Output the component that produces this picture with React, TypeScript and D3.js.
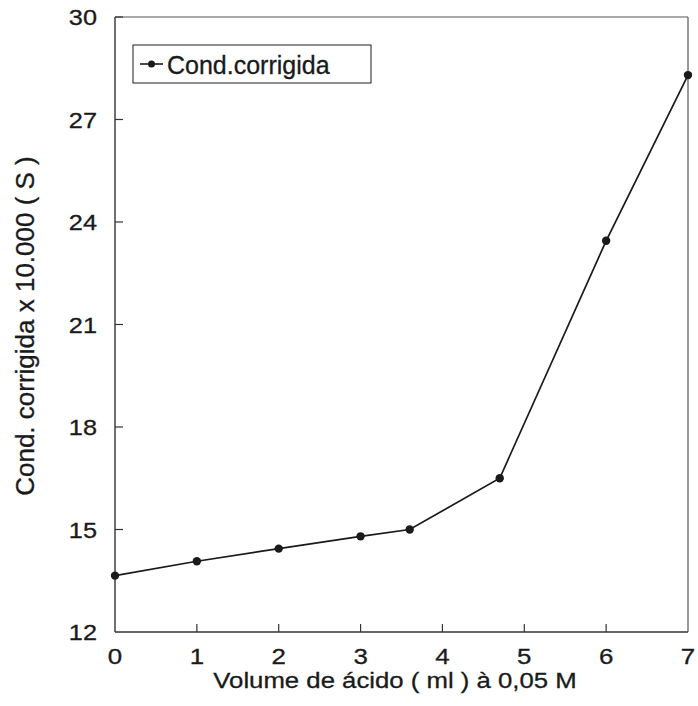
import React from "react";
import * as d3 from "d3";

const volumes = [0, 1, 2, 3, 3.6, 4.7, 6, 7];
const conductance = [13.65, 14.07, 14.44, 14.8, 15.0, 16.5, 23.45, 28.3];
const xTicks = [0, 1, 2, 3, 4, 5, 6, 7];
const yTicks = [12, 15, 18, 21, 24, 27, 30];
const seriesName = "Cond.corrigida";
const xTitle = "Volume de ácido ( ml ) à 0,05 M";
const yTitle = "Cond. corrigida x 10.000 ( S )";

const W = 698;
const H = 706;
const left = 115;
const right = 688;
const top = 17;
const bottom = 632;

export default function App() {
  const x = d3.scaleLinear().domain([0, 7]).range([left, right]);
  const y = d3.scaleLinear().domain([12, 30]).range([bottom, top]);
  const data = volumes.map((v, i) => ({ v, c: conductance[i] }));
  const line = d3
    .line<{ v: number; c: number }>()
    .x((d) => x(d.v))
    .y((d) => y(d.c));
  const font = "Arial, 'Liberation Sans', sans-serif";
  const ink = "#1a1a1a";
  const thick = { stroke: ink, strokeWidth: 0.3 };

  return (
    <svg
      width={W}
      height={H}
      style={{ position: "absolute", left: 0, top: 0, background: "#fff" }}
      fontFamily={font}
    >
      <rect x={0} y={0} width={W} height={H} fill="#fff" />
      {/* frame */}
      <line x1={x(0)} x2={x(7)} y1={y(30)} y2={y(30)} stroke="#555" strokeWidth={1.2} />
      <line x1={x(7)} x2={x(7)} y1={y(30)} y2={y(12)} stroke="#555" strokeWidth={1.2} />
      <line x1={x(0)} x2={x(0)} y1={y(30)} y2={y(12)} stroke="#333" strokeWidth={1.4} />
      <line x1={x(0)} x2={x(7)} y1={y(12)} y2={y(12)} stroke="#333" strokeWidth={1.4} />
      {/* y ticks */}
      {yTicks.map((t) => (
        <g key={"y" + t}>
          {t !== 12 && (
            <line x1={x(0)} x2={x(0) + 8} y1={y(t)} y2={y(t)} stroke="#333" strokeWidth={1.2} />
          )}
          <text
            transform={`translate(97, ${y(t) + 8}) scale(1.15, 1)`}
            textAnchor="end"
            fontSize={22}
            fill={ink}
            {...thick}
          >
            {t}
          </text>
        </g>
      ))}
      {/* x ticks */}
      {xTicks.map((t) => (
        <g key={"x" + t}>
          {t !== 0 && t !== 7 && (
            <line x1={x(t)} x2={x(t)} y1={y(12)} y2={y(12) - 8} stroke="#333" strokeWidth={1.2} />
          )}
          <text
            transform={`translate(${x(t)}, 664) scale(1.15, 1)`}
            textAnchor="middle"
            fontSize={22.5}
            fill={ink}
            {...thick}
          >
            {t}
          </text>
        </g>
      ))}
      {/* axis titles */}
      <text
        transform="translate(395, 688) scale(1.17, 1)"
        textAnchor="middle"
        fontSize={22}
        fill={ink}
        {...thick}
      >
        {xTitle}
      </text>
      <text
        transform="translate(34, 326) rotate(-90) scale(1.04, 1)"
        textAnchor="middle"
        fontSize={25}
        fill={ink}
        {...thick}
      >
        {yTitle}
      </text>
      {/* series */}
      <path d={line(data) || ""} fill="none" stroke={ink} strokeWidth={1.7} />
      {data.map((d, i) => (
        <circle key={i} cx={x(d.v)} cy={y(d.c)} r={4.2} fill={ink} />
      ))}
      {/* legend */}
      <rect x={133} y={45} width={238} height={38} fill="#fff" stroke="#444" strokeWidth={1.2} />
      <line x1={140} x2={163} y1={64} y2={64} stroke={ink} strokeWidth={1.6} />
      <circle cx={151.5} cy={64} r={3.5} fill={ink} />
      <text x={167} y={74} fontSize={25} fill={ink} {...thick}>
        {seriesName}
      </text>
    </svg>
  );
}
